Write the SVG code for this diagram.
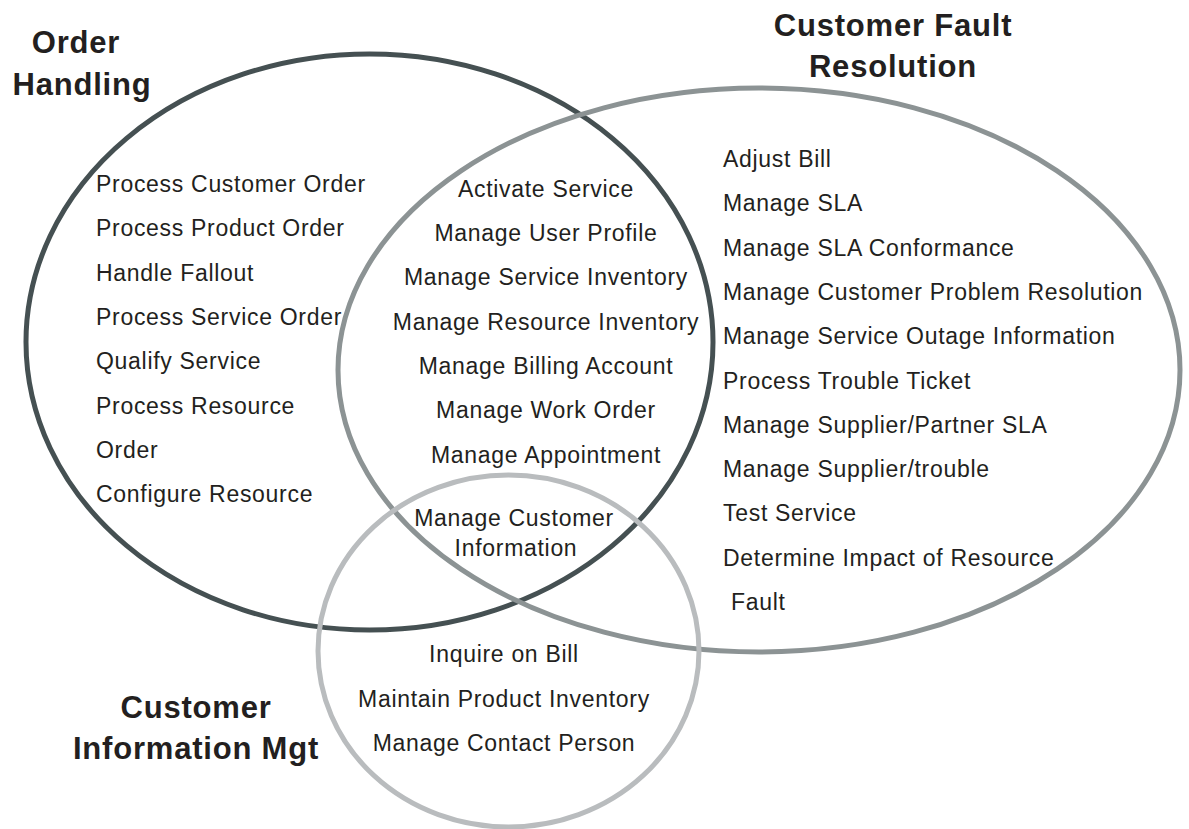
<svg xmlns="http://www.w3.org/2000/svg" width="1189" height="829" viewBox="0 0 1189 829">
<style>
.item{font-family:"Liberation Sans",Arial,sans-serif;font-size:23px;fill:#231f20;letter-spacing:0.7px}
.mid{text-anchor:middle}
.title{font-family:"Liberation Sans",Arial,sans-serif;font-size:31px;font-weight:bold;fill:#231f20;letter-spacing:0.8px;text-anchor:middle}
.set{fill:none;stroke-width:5}
</style>
<rect width="1189" height="829" fill="#ffffff"/>
<g id="order-handling">
<ellipse class="set" cx="369.5" cy="342" rx="343.5" ry="288" stroke="#455052"/>
<text class="title" x="76" y="53">Order</text>
<text class="title" x="82" y="95">Handling</text>
<text class="item" x="96" y="192">Process Customer Order</text>
<text class="item" x="96" y="236.3">Process Product Order</text>
<text class="item" x="96" y="280.6">Handle Fallout</text>
<text class="item" x="96" y="324.9">Process Service Order</text>
<text class="item" x="96" y="369.2">Qualify Service</text>
<text class="item" x="96" y="413.5">Process Resource</text>
<text class="item" x="96" y="457.8">Order</text>
<text class="item" x="96" y="502.1">Configure Resource</text>
</g>
<g id="customer-fault-resolution">
<ellipse class="set" cx="759" cy="370" rx="421" ry="282" stroke="#8c9394"/>
<text class="title" x="893" y="36">Customer Fault</text>
<text class="title" x="893" y="77">Resolution</text>
<text class="item" x="723" y="167">Adjust Bill</text>
<text class="item" x="723" y="211.3">Manage SLA</text>
<text class="item" x="723" y="255.6">Manage SLA Conformance</text>
<text class="item" x="723" y="299.9">Manage Customer Problem Resolution</text>
<text class="item" x="723" y="344.2">Manage Service Outage Information</text>
<text class="item" x="723" y="388.5">Process Trouble Ticket</text>
<text class="item" x="723" y="432.8">Manage Supplier/Partner SLA</text>
<text class="item" x="723" y="477.1">Manage Supplier/trouble</text>
<text class="item" x="723" y="521.4">Test Service</text>
<text class="item" x="723" y="565.7">Determine Impact of Resource</text>
<text class="item" x="731" y="610">Fault</text>
</g>
<g id="order-fault-overlap">
<text class="item mid" x="546" y="196.7">Activate Service</text>
<text class="item mid" x="546" y="241">Manage User Profile</text>
<text class="item mid" x="546" y="285.3">Manage Service Inventory</text>
<text class="item mid" x="546" y="329.6">Manage Resource Inventory</text>
<text class="item mid" x="546" y="373.9">Manage Billing Account</text>
<text class="item mid" x="546" y="418.2">Manage Work Order</text>
<text class="item mid" x="546" y="462.5">Manage Appointment</text>
</g>
<g id="customer-information-mgt">
<ellipse class="set" cx="508.5" cy="651" rx="190.5" ry="176" stroke="#b9bcbe"/>
<text class="title" x="196" y="718">Customer</text>
<text class="title" x="196" y="758.5">Information Mgt</text>
<text class="item mid" x="504" y="662.3">Inquire on Bill</text>
<text class="item mid" x="504" y="706.7">Maintain Product Inventory</text>
<text class="item mid" x="504" y="751">Manage Contact Person</text>
</g>
<g id="all-overlap">
<text class="item mid" x="514" y="526">Manage Customer</text>
<text class="item mid" x="516" y="556">Information</text>
</g>
<g id="connectors"></g>
</svg>
